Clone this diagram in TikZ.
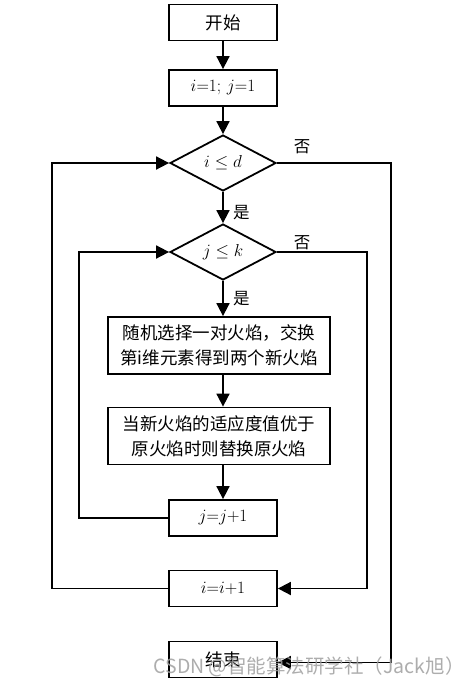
\documentclass[tikz,border=0pt]{standalone}
\usepackage{fontspec}
\newfontfamily\cjk{Noto Sans CJK SC}
\usetikzlibrary{shapes.geometric,arrows.meta,calc}
\tikzset{
  base/.style={draw, line width=1.8pt, inner sep=0pt, align=center, font=\cjk\fontsize{17.5}{25}\selectfont},
  smallbox/.style={base, minimum width=108pt, minimum height=36pt},
  bigbox/.style={base, minimum width=222pt, minimum height=57pt},
  decision/.style={draw, line width=1.8pt, diamond, aspect=1.9, inner sep=0pt, minimum width=106pt, minimum height=56pt, font=\fontsize{16}{18}\selectfont},
  conn/.style={line width=1.8pt, -{Triangle[length=13pt,width=13pt]}},
  lbl/.style={font=\cjk\fontsize{16.5}{18}\selectfont},
  wmark/.style={font=\cjk\fontsize{19.5}{22}\selectfont, text=gray!75, opacity=0.85}
}
\begin{document}
\begin{tikzpicture}[x=1pt,y=-1pt]
\useasboundingbox (0,0) rectangle (467,686);
\fill[white] (0,0) rectangle (467,686);
\node[smallbox] (start) at (223,22.5) {开始};
\node[smallbox, font=\fontsize{16}{18}\selectfont] (init) at (223,88) {$i{=}1;\,j{=}1$};
\node[decision] (d1) at (223,163) {$i\leq d$};
\node[decision] (d2) at (223,252) {$j\leq k$};
\node[bigbox] (swap) at (219,345.5) {随机选择一对火焰，交换\\第i维元素得到两个新火焰};
\node[bigbox] (repl) at (219,436) {当新火焰的适应度值优于\\原火焰时则替换原火焰};
\node[smallbox, font=\fontsize{16}{18}\selectfont] (jinc) at (223,518) {$j{=}j{+}1$};
\node[smallbox, font=\fontsize{16}{18}\selectfont] (iinc) at (223,588.5) {$i{=}i{+}1$};
\node[smallbox] (end) at (223,659.5) {结束};

\coordinate (lj) at (79,0);
\coordinate (li) at (52,0);
\coordinate (rj) at (367,0);
\coordinate (ri) at (391,0);

\draw[conn] (start) -- (init);
\draw[conn] (init) -- (d1);
\draw[conn] (d1) -- node[lbl, right=6pt, pos=0.65] {是} (d2);
\draw[conn] (d2) -- node[lbl, right=6pt, pos=0.5] {是} (swap.north -| d2.south);
\draw[conn] (swap.south -| init.south) -- (repl.north -| init.south);
\draw[conn] (repl.south -| jinc.north) -- (jinc);
\draw[conn] (jinc.west) -| (lj |- jinc.west) |- (d2.west);
\draw[conn] (iinc.west) -| (li |- iinc.west) |- (d1.west);
\draw[conn] (d2.east) -- (rj |- d2.east) |- (iinc.east);
\draw[conn] (d1.east) -- (ri |- d1.east) |- ([yshift=-3pt]end.east);
\node[lbl] (no1) at (302,147) {否};
\node[lbl] (no2) at (302,243) {否};

\node[wmark, anchor=west] (wm) at (150,667) {CSDN @智能算法研学社（Jack旭）};
\end{tikzpicture}
\end{document}
